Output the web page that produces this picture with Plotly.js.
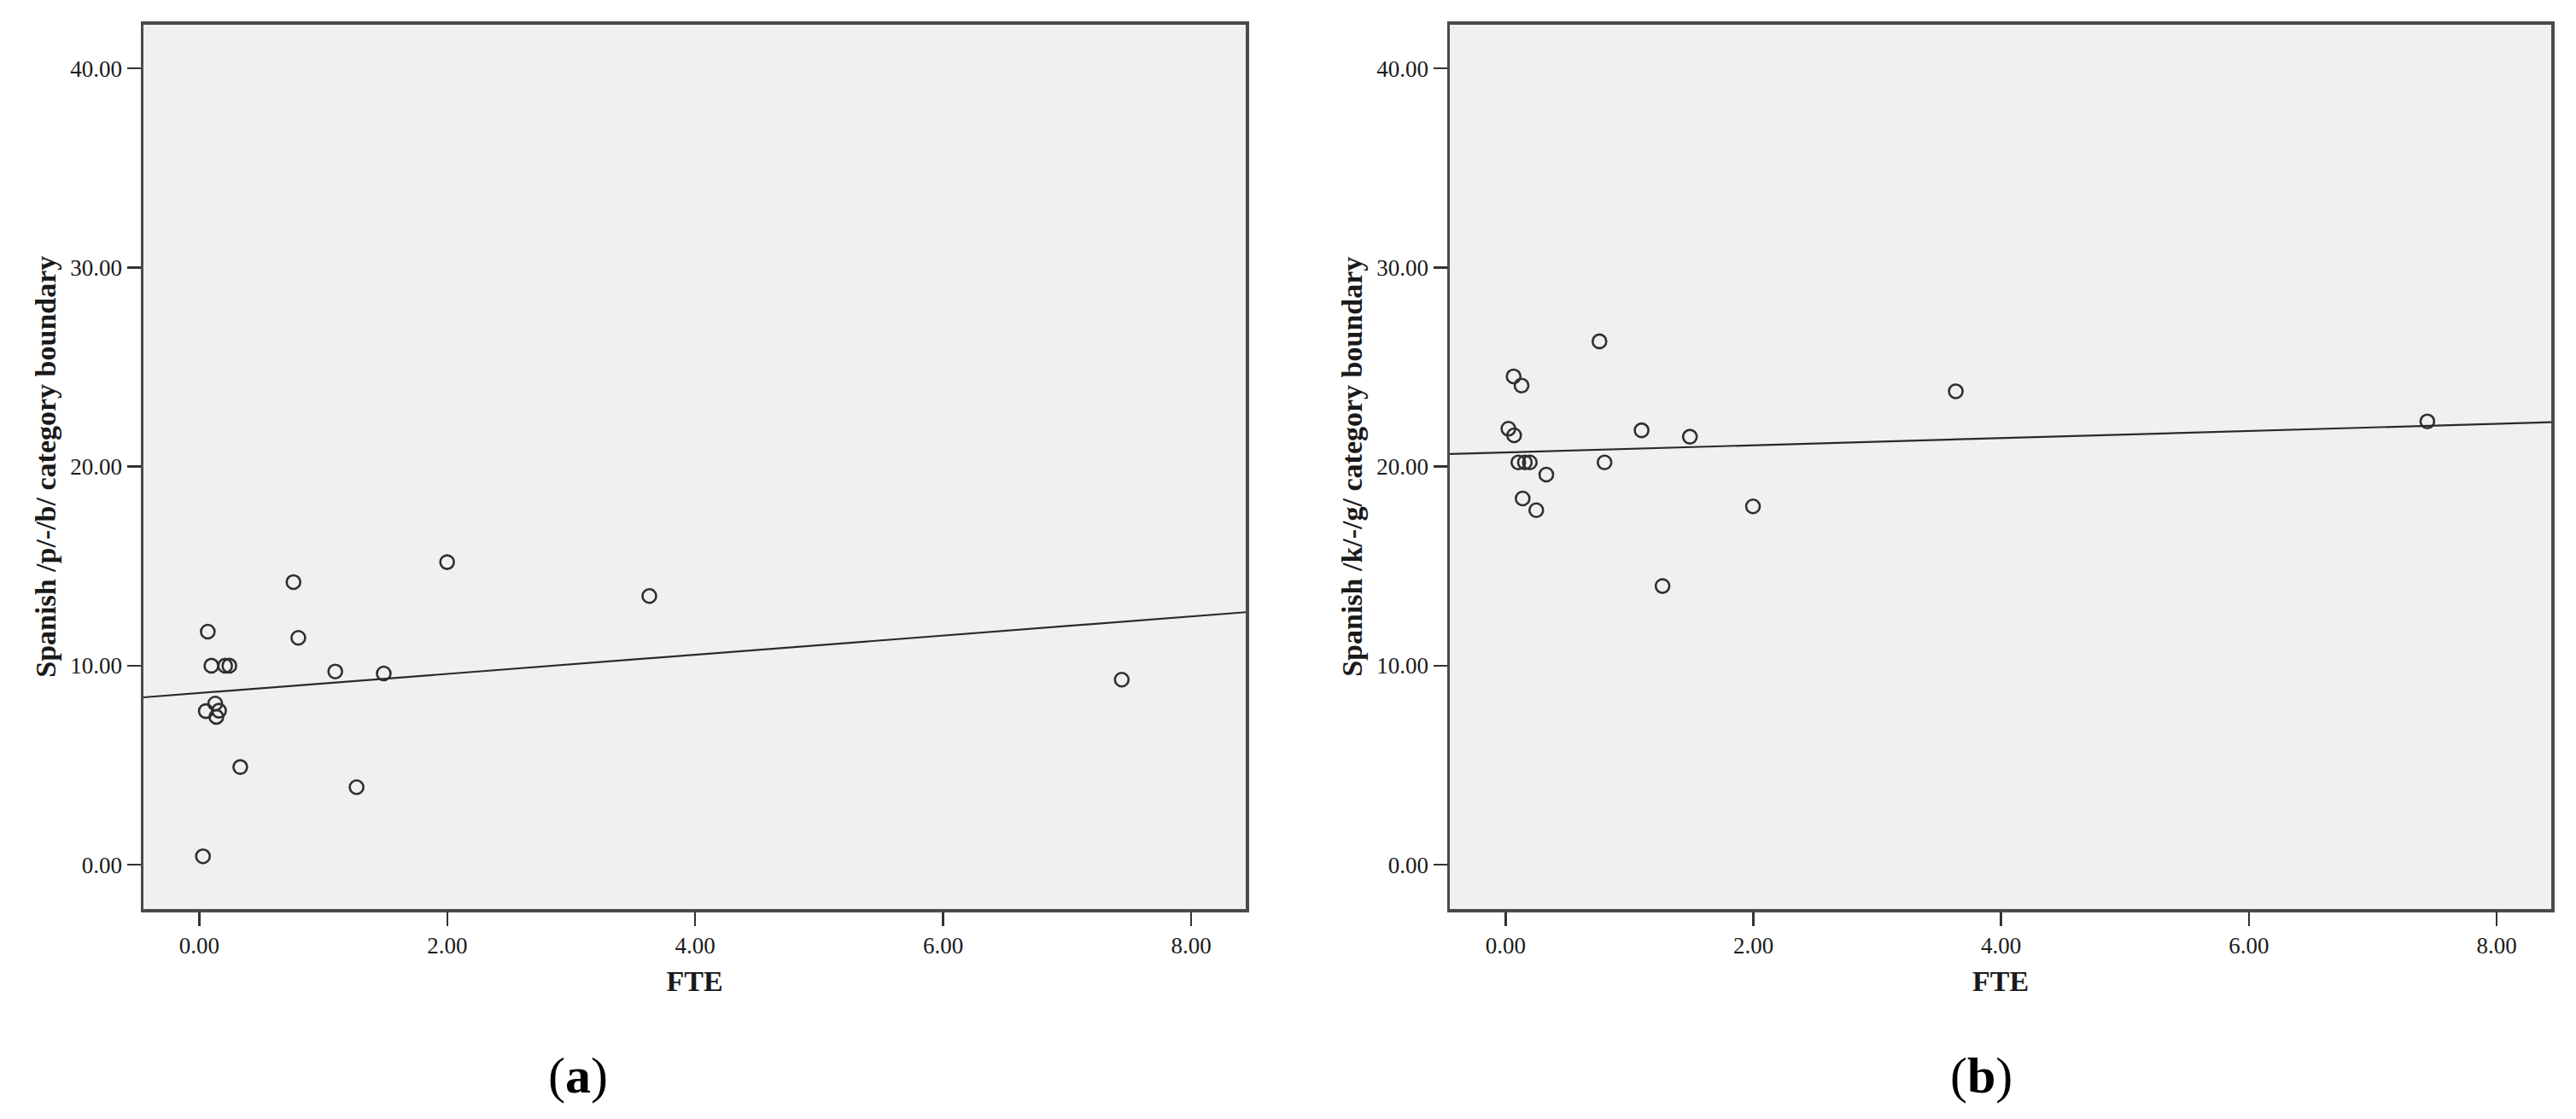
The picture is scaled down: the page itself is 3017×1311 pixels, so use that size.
<!DOCTYPE html>
<html>
<head>
<meta charset="utf-8">
<script src="https://cdn.plot.ly/plotly-3.0.1.min.js"></script>
<style>
  html, body { margin: 0; padding: 0; background: #ffffff; }
  #chart { width: 3017px; height: 1311px; }
</style>
</head>
<body>
<div id="chart"></div>
<script>
// ---- Data ----
// Panel (a): FTE vs Spanish /p/-/b/ category boundary
const fteA = [0.03, 0.069, 0.098, 0.209, 0.243, 0.053, 0.129, 0.160, 0.138, 0.331, 0.760, 0.799, 1.097, 1.269, 1.488, 1.999, 3.63, 7.44];
const boundaryPB = [0.43, 11.71, 10.0, 10.0, 10.0, 7.72, 8.10, 7.74, 7.43, 4.91, 14.2, 11.4, 9.71, 3.90, 9.61, 15.2, 13.5, 9.3];

// Panel (b): FTE vs Spanish /k/-/g/ category boundary
const fteB = [0.758, 0.065, 0.129, 0.023, 0.069, 1.098, 1.488, 0.103, 0.156, 0.196, 0.799, 0.329, 0.138, 0.248, 1.997, 1.267, 3.634, 7.44];
const boundaryKG = [26.29, 24.53, 24.07, 21.90, 21.57, 21.82, 21.5, 20.21, 20.21, 20.21, 20.21, 19.6, 18.4, 17.81, 18.0, 14.0, 23.78, 22.27];

// Tick values / labels
const xTicks = [0, 2, 4, 6, 8];
const yTicks = [0, 10, 20, 30, 40];
const xTitle = 'FTE';
const yTitleA = 'Spanish /p/-/b/ category boundary';
const yTitleB = 'Spanish /k/-/g/ category boundary';
const panelLabels = ['(<b>a</b>)', '(<b>b</b>)'];

// ---- Helpers ----
function linFit(xs, ys) {
  const n = xs.length;
  const mx = xs.reduce((a, b) => a + b, 0) / n;
  const my = ys.reduce((a, b) => a + b, 0) / n;
  let sxy = 0, sxx = 0;
  for (let i = 0; i < n; i++) {
    sxy += (xs[i] - mx) * (ys[i] - my);
    sxx += (xs[i] - mx) * (xs[i] - mx);
  }
  const slope = sxy / sxx;
  return { slope: slope, intercept: my - slope * mx };
}

const xRange = [-0.45, 8.44];
const yRange = [-2.22, 42.21];

function fitLine(xs, ys, xa, ya) {
  const f = linFit(xs, ys);
  const lx = [xRange[0], xRange[1]];
  return {
    x: lx, y: lx.map(v => f.intercept + f.slope * v),
    xaxis: xa, yaxis: ya, mode: 'lines', type: 'scatter',
    line: { color: '#2a2a2a', width: 2.2 }, hoverinfo: 'skip', showlegend: false
  };
}

const markerStyle = {
  symbol: 'circle-open', size: 16,
  color: '#2f2f2f', line: { width: 2.6, color: '#2f2f2f' }
};

const traces = [
  { x: fteA, y: boundaryPB, xaxis: 'x', yaxis: 'y', mode: 'markers', type: 'scatter', marker: markerStyle, showlegend: false },
  fitLine(fteA, boundaryPB, 'x', 'y'),
  { x: fteB, y: boundaryKG, xaxis: 'x2', yaxis: 'y2', mode: 'markers', type: 'scatter', marker: markerStyle, showlegend: false },
  fitLine(fteB, boundaryKG, 'x2', 'y2')
];

const W = 3017, H = 1311;
const tickFont = { family: '"Liberation Serif", "Times New Roman", serif', size: 27, color: '#1a1a1a' };
const titleFont = { family: '"Liberation Serif", "Times New Roman", serif', size: 34, color: '#1a1a1a', weight: 700 };

function xAxis(domain, anchor) {
  return {
    domain: domain, anchor: anchor, range: xRange, autorange: false,
    tickvals: xTicks, tickformat: '.2f', ticks: 'outside', ticklen: 16, tickwidth: 2.5, tickcolor: '#333',
    showline: true, mirror: true, linecolor: '#4a4a4a', linewidth: 3.5,
    showgrid: false, zeroline: false, tickfont: tickFont,
    title: { text: xTitle, font: titleFont, standoff: 16 }
  };
}
function yAxis(domain, anchor, title) {
  return {
    domain: domain, anchor: anchor, range: yRange, autorange: false,
    tickvals: yTicks, tickformat: '.2f', ticks: 'outside', ticklen: 16, tickwidth: 2.5, tickcolor: '#333',
    showline: true, mirror: true, linecolor: '#4a4a4a', linewidth: 3.5,
    showgrid: false, zeroline: false, tickfont: tickFont,
    title: { text: title, font: titleFont, standoff: 7 }
  };
}

const yDom = [1 - 1065 / H, 1 - 28.5 / H];
const layout = {
  width: W, height: H,
  margin: { l: 0, r: 0, t: 0, b: 0 },
  paper_bgcolor: '#ffffff',
  plot_bgcolor: '#f0f0f0',
  showlegend: false,
  xaxis: xAxis([168 / W, 1459 / W], 'y'),
  yaxis: yAxis(yDom, 'x', yTitleA),
  xaxis2: xAxis([1698 / W, 2988 / W], 'y2'),
  yaxis2: yAxis(yDom, 'x2', yTitleB),
  annotations: [
    { text: panelLabels[0], x: 677 / W, y: 1 - 1260 / H, xref: 'paper', yref: 'paper', showarrow: false,
      xanchor: 'center', yanchor: 'middle', font: { family: '"Liberation Serif", "Times New Roman", serif', size: 60, color: '#000' } },
    { text: panelLabels[1], x: 2320 / W, y: 1 - 1260 / H, xref: 'paper', yref: 'paper', showarrow: false,
      xanchor: 'center', yanchor: 'middle', font: { family: '"Liberation Serif", "Times New Roman", serif', size: 60, color: '#000' } }
  ]
};

Plotly.newPlot('chart', traces, layout, { staticPlot: true, displayModeBar: false });
</script>
</body>
</html>
